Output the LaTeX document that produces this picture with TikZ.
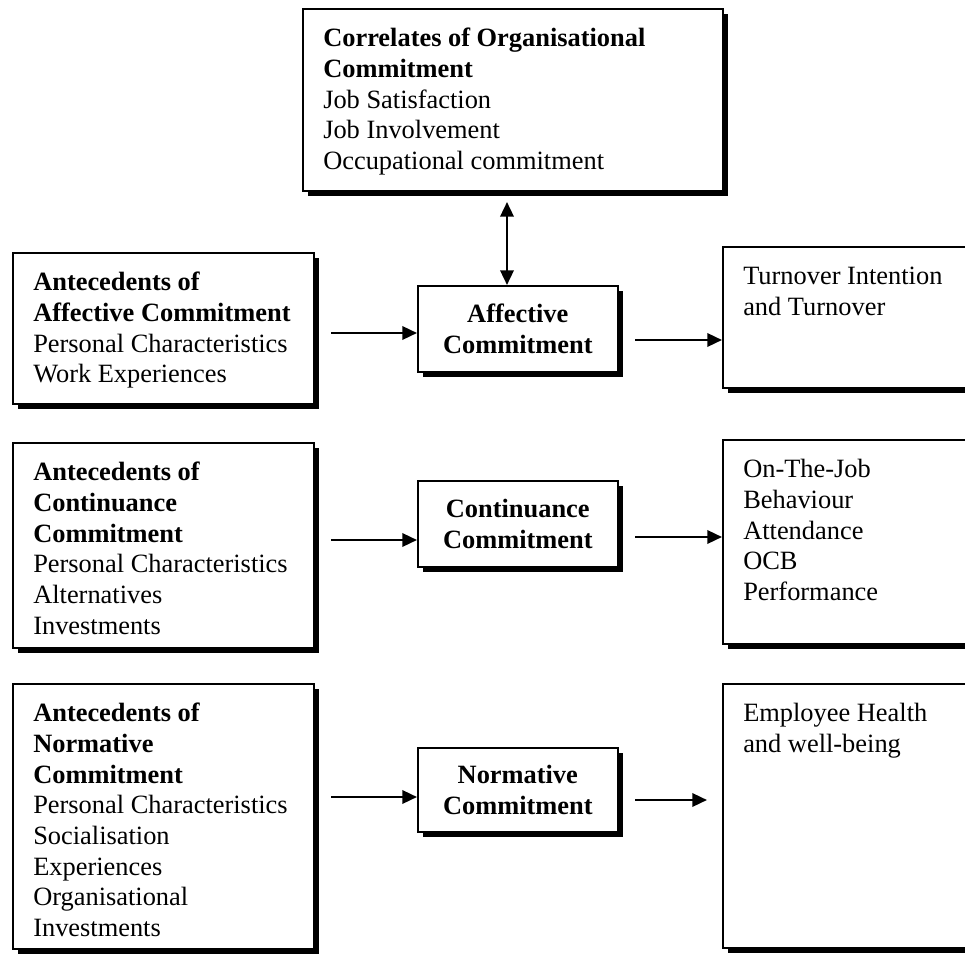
\documentclass[tikz,border=0pt]{standalone}
\usepackage{fontspec}
\setmainfont{Liberation Serif}
\usetikzlibrary{arrows.meta,shadows}
\begin{document}
\begin{tikzpicture}[x=0.75pt,y=-0.75pt,
  box/.style={draw, line width=1.2pt, fill=white, inner sep=0pt, anchor=north west,
    drop shadow={shadow xshift=4pt, shadow yshift=-4pt, fill=black, opacity=1}},
  txt/.style={anchor=north west, inner sep=0pt, align=left, font=\fontsize{19.8}{23}\selectfont},
  midbox/.style={box, align=center, font=\fontsize{19.8}{23}\selectfont\bfseries,
    minimum width=150pt, minimum height=64.5pt},
  leftbox/.style={box, minimum width=225.75pt},
  rightbox/.style={box, minimum width=195pt},
  arr/.style={line width=1.8pt, -{Triangle[length=11pt,width=10pt]}},
  darr/.style={line width=1.8pt, {Triangle[length=11pt,width=10pt]}-{Triangle[length=11pt,width=10pt]}},
  tshift/.style={xshift=15.75pt, yshift=-12.75pt}
]
\clip (0,0) rectangle (965,956);
\fill[white] (0,0) rectangle (965,956);

% top box
\node[box, minimum width=315pt, minimum height=136.5pt] (top) at (302,8) {};
\node[txt] (topt) at ([tshift]top.north west) {\strut\textbf{Correlates of Organisational}\\\textbf{Commitment}\\Job Satisfaction\\Job Involvement\\Occupational commitment};

% left boxes
\node[leftbox, minimum height=113.25pt] (l1) at (12,252) {};
\node[txt] (l1t) at ([tshift]l1.north west) {\strut\textbf{Antecedents of}\\\textbf{Affective Commitment}\\Personal Characteristics\\Work Experiences};

\node[leftbox, minimum height=153.75pt] (l2) at (12,442) {};
\node[txt] (l2t) at ([tshift]l2.north west) {\strut\textbf{Antecedents of}\\\textbf{Continuance}\\\textbf{Commitment}\\Personal Characteristics\\Alternatives\\Investments};

\node[leftbox, minimum height=198.75pt] (l3) at (12,683) {};
\node[txt] (l3t) at ([tshift]l3.north west) {\strut\textbf{Antecedents of}\\\textbf{Normative}\\\textbf{Commitment}\\Personal Characteristics\\Socialisation\\Experiences\\Organisational\\Investments};

% middle boxes
\node[midbox] (aff) at (417,285) {Affective\\Commitment};
\node[midbox] (cont) at (417,480) {Continuance\\Commitment};
\node[midbox, minimum height=63pt] (norm) at (417,747) {Normative\\Commitment};

% right boxes
\node[rightbox, minimum height=105.75pt] (r1) at (722,246) {};
\node[txt] (r1t) at ([tshift]r1.north west) {\strut Turnover Intention\\and Turnover};

\node[rightbox, minimum height=153pt] (r2) at (722,439) {};
\node[txt] (r2t) at ([tshift]r2.north west) {\strut On-The-Job\\Behaviour\\Attendance\\OCB\\Performance};

\node[rightbox, minimum height=198pt] (r3) at (722,683) {};
\node[txt] (r3t) at ([tshift]r3.north west) {\strut Employee Health\\and well-being};

% connectors
\coordinate (d1) at (507,202);
\draw[darr] (d1) -- (d1 |- aff.north);

\coordinate (s1) at (331,333);
\draw[arr] (s1) -- (s1 -| aff.west);
\coordinate (o1) at (635,340);
\draw[arr] (o1) -- (o1 -| r1.west);

\coordinate (s2) at (331,540);
\draw[arr] (s2) -- (s2 -| cont.west);
\coordinate (o2) at (635,537);
\draw[arr] (o2) -- (o2 -| r2.west);

\coordinate (s3) at (331,797);
\draw[arr] (s3) -- (s3 -| norm.west);
\coordinate (o3) at (635,800);
\coordinate (e3) at (707,800);
\draw[arr] (o3) -- (e3);
\end{tikzpicture}
\end{document}
